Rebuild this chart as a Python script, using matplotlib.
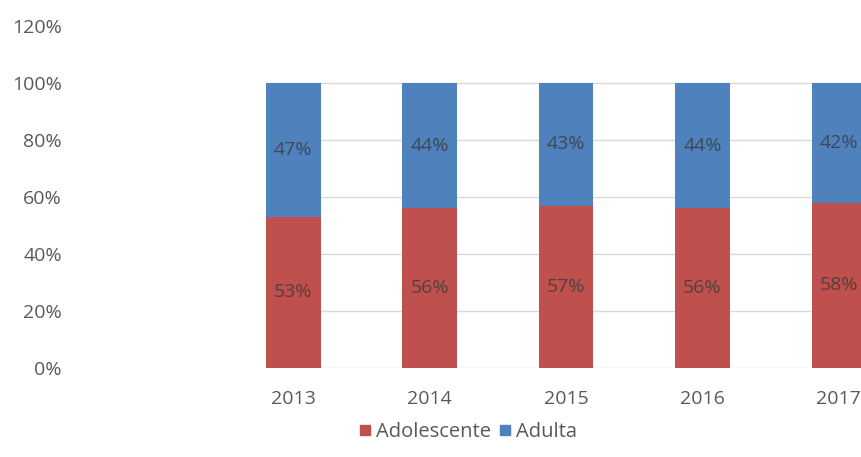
import matplotlib.pyplot as plt
from matplotlib.lines import Line2D

# dados
anos = ['2013', '2014', '2015', '2016', '2017']
adolescente = [0.53, 0.56, 0.57, 0.56, 0.58]
adulta = [0.47, 0.44, 0.43, 0.44, 0.42]

cor_adol = '#C0504D'
cor_adul = '#4F81BD'
cinza = '#595959'

plt.rcParams['font.family'] = ['Open Sans', 'DejaVu Sans']

fig = plt.figure(figsize=(8.62, 4.57), dpi=100)
ax = fig.add_axes([266 / 862, 1 - 368 / 457, 1 - 266 / 862, 342 / 457])

x = range(len(anos))
ax.bar(x, adolescente, width=0.4, color=cor_adol, zorder=2)
ax.bar(x, adulta, width=0.4, bottom=adolescente, color=cor_adul, zorder=2)

# rotulos dentro das barras
for i in x:
    ax.text(i, adolescente[i] / 2, f'{adolescente[i]*100:.0f}%', ha='center', va='center',
            fontsize=14, color='#3a3a3a', alpha=0.8, zorder=3)
    ax.text(i, adolescente[i] + adulta[i] / 2, f'{adulta[i]*100:.0f}%', ha='center', va='center',
            fontsize=14, color='#3a3a3a', alpha=0.8, zorder=3)

ax.set_xlim(-0.2, 4.17)
ax.set_ylim(0, 1.2)
ax.set_yticks([0, 0.2, 0.4, 0.6, 0.8, 1.0, 1.2])
ax.set_yticklabels(['0%', '20%', '40%', '60%', '80%', '100%', '120%'])
ax.set_xticks(list(x))
ax.set_xticklabels(anos)
# linhas de grade sem a de 120%
for v in [0, 0.2, 0.4, 0.6, 0.8, 1.0]:
    ax.axhline(v, color='#D9D9D9', linewidth=1, zorder=0)
for s in ax.spines.values():
    s.set_visible(False)
ax.tick_params(axis='y', length=0, pad=147, labelsize=14, labelcolor=cinza)
ax.tick_params(axis='x', length=0, pad=16, labelsize=14, labelcolor=cinza)

handles = [Line2D([], [], marker='s', linestyle='', color=cor_adol, markersize=7),
           Line2D([], [], marker='s', linestyle='', color=cor_adul, markersize=7)]
fig.legend(handles, ['Adolescente', 'Adulta'], loc='center', bbox_to_anchor=(467 / 862, 1 - 432 / 457),
           ncol=2, frameon=False, fontsize=14.5, labelcolor=cinza, handletextpad=0.15, columnspacing=0.3,
           handlelength=0.8)

fig.savefig('out.png', dpi=100)
